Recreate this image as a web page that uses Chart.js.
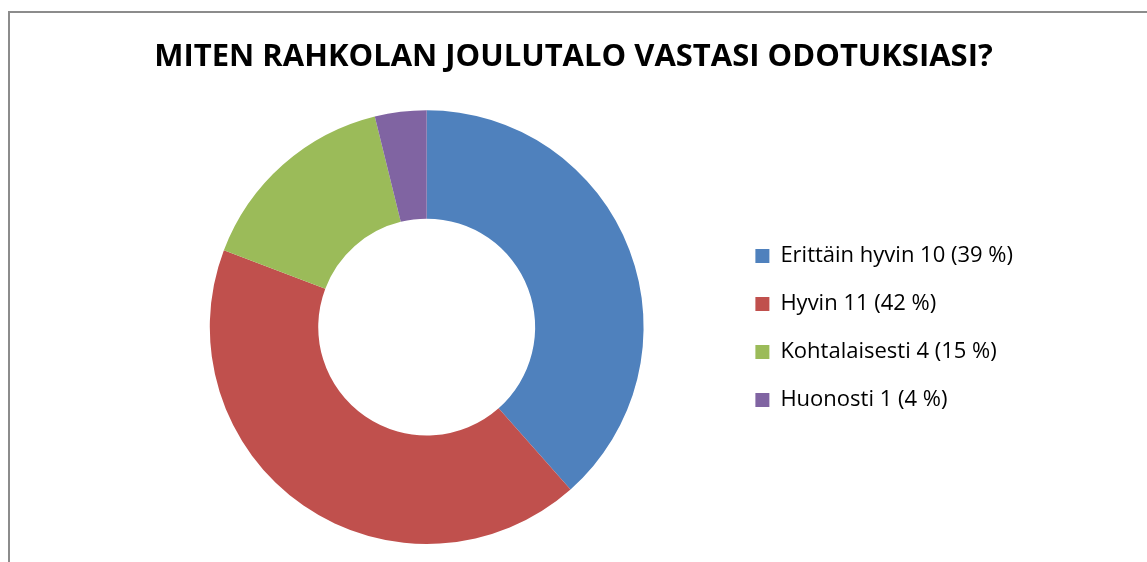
<!DOCTYPE html>
<html>
<head>
<meta charset="utf-8">
<script src="https://cdn.jsdelivr.net/npm/chart.js@4/dist/chart.umd.min.js"></script>
<style>
  html, body { margin: 0; padding: 0; background: #fff; overflow: hidden; }
  #frame {
    position: absolute; left: 8px; top: 11px; width: 1300px; height: 700px;
    border: 2px solid #8c8c8c; box-sizing: border-box;
  }
  #wrap { position: absolute; left: 0; top: 0; width: 1147px; height: 562px; }
</style>
</head>
<body>
<div id="frame"></div>
<div id="wrap"><canvas id="chart" width="1147" height="562"></canvas></div>
<script>
const categories = ['Erittäin hyvin', 'Hyvin', 'Kohtalaisesti', 'Huonosti'];
const counts = [10, 11, 4, 1];
const percents = [39, 42, 15, 4];
const colors = ['#4F81BD', '#C0504D', '#9BBB59', '#8064A2'];

const labels = categories.map((c, i) => `${c} ${counts[i]} (${percents[i]} %)`);

const ctx = document.getElementById('chart').getContext('2d');

new Chart(ctx, {
    type: 'doughnut',
    data: {
        labels: labels,
        datasets: [{
            data: counts,
            backgroundColor: colors,
            borderWidth: 0
        }]
    },
    options: {
        responsive: false,
        animation: false,
        cutout: '50%',
        layout: {
            padding: { top: 0, bottom: 18, left: 124, right: 124 }
        },
        plugins: {
            title: {
                display: true,
                text: 'MITEN RAHKOLAN JOULUTALO VASTASI ODOTUKSIASI?',
                color: '#000',
                font: { family: 'Open Sans', size: 31, weight: 'bold', lineHeight: 1.2 },
                padding: { top: 39, bottom: 34 }
            },
            legend: {
                position: 'right',
                // empty title only pushes the column down so it sits centred on the ring
                title: {
                    display: true,
                    text: '',
                    font: { size: 10, lineHeight: 1.2 },
                    padding: { top: 0, bottom: 100 }
                },
                labels: {
                    color: '#000',
                    font: { family: 'Open Sans', size: 22 },
                    boxWidth: 14,
                    boxHeight: 14,
                    padding: 26
                }
            },
            tooltip: { enabled: false }
        }
    }
});
</script>
</body>
</html>
